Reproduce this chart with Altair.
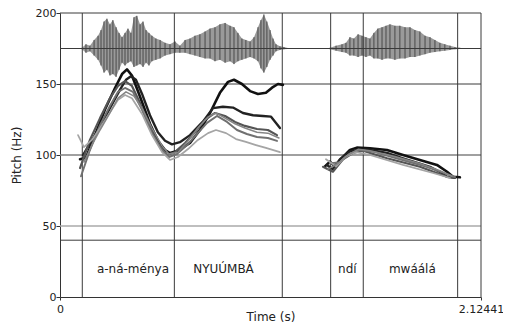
import altair as alt
import pandas as pd

# ---------------- data ----------------
# pitch tracks, first phrase (a-ná-ménya NYUÚMBÁ)
p1_t = [0.101, 0.131, 0.177, 0.227, 0.277, 0.313, 0.338, 0.363, 0.404, 0.454, 0.494, 0.530, 0.555,
        0.595, 0.656, 0.706, 0.757, 0.807, 0.848, 0.878, 0.918, 0.959, 0.999, 1.039, 1.070, 1.100, 1.125]
p1_hz = [97, 98, 114, 132, 147, 157, 160.3, 156, 141, 122, 110, 103.5, 101.4,
         103, 108.5, 117.6, 129.6, 143.8, 151.5, 153, 150, 145, 143, 143.8, 147.4, 150, 149.4]

p2_t = [0.116, 0.151, 0.202, 0.252, 0.303, 0.333, 0.358, 0.383, 0.414, 0.454, 0.494, 0.530, 0.565,
        0.605, 0.656, 0.721, 0.772, 0.822, 0.873, 0.923, 0.974, 1.024, 1.065, 1.110]
p2_hz = [100, 108, 120, 133, 146, 153, 155.5, 153, 143, 128, 116, 110, 107.5,
         109, 114, 123.5, 133, 134, 133.4, 129.6, 128, 127.5, 127, 119]

p3_t = [0.101, 0.151, 0.202, 0.252, 0.293, 0.328, 0.363, 0.404, 0.454, 0.505, 0.540, 0.580, 0.631,
        0.681, 0.732, 0.782, 0.833, 0.883, 0.933, 0.994, 1.049, 1.095]
p3_hz = [90.8, 110.6, 126, 140, 148.6, 152, 148.6, 136.6, 119, 105.6, 100, 102, 108.5,
         116, 124.7, 129.6, 127.5, 123.3, 120.5, 118.3, 117.6, 114]

p4_t = [0.106, 0.151, 0.202, 0.252, 0.293, 0.328, 0.368, 0.414, 0.464, 0.515, 0.550, 0.590, 0.641,
        0.691, 0.742, 0.792, 0.843, 0.893, 0.943, 0.994, 1.049, 1.095]
p4_hz = [85, 103.5, 121, 134.5, 144.5, 147.2, 144.5, 131.8, 115.4, 103.5, 98.6, 100.7, 107,
         114.8, 122.6, 127.5, 123.3, 117.6, 114.8, 112.7, 112, 109.9]

p5_t = [0.091, 0.121, 0.161, 0.202, 0.252, 0.293, 0.328, 0.363, 0.414, 0.464, 0.515, 0.555, 0.595,
        0.646, 0.696, 0.747, 0.787, 0.838, 0.888, 0.938, 0.989, 1.039, 1.110]
p5_hz = [114, 105.6, 110.6, 119, 130, 138.8, 142.3, 140, 128.9, 114, 102, 96.5, 98.6,
         104.2, 110.6, 115.4, 117.6, 115.4, 111.2, 109.2, 107, 105, 102]

p6_t = [0.121, 0.161, 0.202, 0.252, 0.293, 0.333, 0.373, 0.414, 0.464, 0.515, 0.550, 0.595, 0.646,
        0.696, 0.747, 0.787, 0.833, 0.883, 0.933, 0.994, 1.049, 1.105]
p6_hz = [95, 107, 117.6, 129.6, 140, 144.5, 141.5, 133, 119, 106.4, 100.7, 102, 109.9,
         119, 126.8, 129.6, 126, 122, 119, 116, 115.4, 112]

# pitch tracks, second phrase (ndí mwáálá)
q1_t = [1.337, 1.362, 1.387, 1.413, 1.463, 1.498, 1.564, 1.650, 1.731, 1.816, 1.902, 1.953, 1.983, 2.018]
q1_hz = [92, 95.3, 92, 96.5, 103.5, 105.2, 104.7, 103.5, 100, 96.5, 93, 88.2, 84.7, 84.3]

q2_t = [1.347, 1.377, 1.413, 1.463, 1.514, 1.564, 1.650, 1.731, 1.816, 1.867, 1.917, 1.953, 1.993]
q2_hz = [93, 90, 97, 102.5, 104, 103.5, 101.5, 97.7, 94, 91.7, 88, 84.7, 84]

q3_t = [1.327, 1.377, 1.428, 1.478, 1.529, 1.650, 1.816, 1.953, 1.993]
q3_hz = [91.7, 88.2, 97, 101.4, 103, 97.7, 91.7, 84.7, 84]

q4_t = [1.362, 1.413, 1.463, 1.514, 1.589, 1.715, 1.842, 1.943, 1.993]
q4_hz = [94, 95, 101, 103.5, 102, 97, 92, 87, 84.5]

q5_t = [1.342, 1.393, 1.443, 1.493, 1.564, 1.731, 1.882, 1.968]
q5_hz = [97, 92, 99, 102, 100, 93, 87.3, 83.8]

q6_t = [1.352, 1.403, 1.453, 1.504, 1.564, 1.690, 1.816, 1.917, 1.978]
q6_hz = [90, 94, 100, 104, 103, 99, 94, 89, 85]

# waveform envelope (drawn around the 175 line)
w1_t = [0.111, 0.131, 0.151, 0.172, 0.192, 0.207, 0.222, 0.237, 0.252, 0.267, 0.283, 0.298, 0.313,
        0.328, 0.343, 0.358, 0.373, 0.388, 0.404, 0.419, 0.434, 0.449, 0.464, 0.484, 0.505, 0.530,
        0.555, 0.580, 0.605, 0.631, 0.656, 0.681, 0.706, 0.732, 0.757, 0.782, 0.807, 0.833, 0.858,
        0.878, 0.898, 0.918, 0.938, 0.959, 0.979, 0.999, 1.014, 1.029, 1.044, 1.060, 1.075, 1.090,
        1.110, 1.130, 1.150]
w1_hi = [175.5, 178, 177, 181, 184, 188, 194, 196, 192, 195, 190, 186, 183,
         186, 189, 186, 197, 198, 192, 194, 188, 186, 184, 182, 181, 179,
         178, 180, 177, 181, 182, 184, 185, 187, 189, 190, 192, 193, 191,
         190, 186, 182, 181, 180, 183, 190, 195, 199, 194, 188, 182, 178,
         176.5, 176, 175.3]
w1_lo = [174.5, 172, 173, 170, 167, 163, 158, 160, 156, 157, 155, 160, 165,
         163, 165, 166, 162, 163, 164, 162, 165, 163, 166, 167, 168, 170,
         171, 172, 172, 172, 171, 170, 169, 168, 168, 166, 167, 165, 166,
         164, 166, 167, 168, 169, 168, 166, 161, 158, 162, 167, 170, 173,
         174, 174.5, 174.7]

w2_t = [1.362, 1.393, 1.423, 1.443, 1.463, 1.483, 1.504, 1.524, 1.544, 1.564, 1.584, 1.604, 1.625,
        1.645, 1.665, 1.690, 1.715, 1.741, 1.766, 1.791, 1.816, 1.842, 1.867, 1.892, 1.917, 1.942,
        1.968, 1.993, 2.018]
w2_hi = [175.5, 177, 178, 179, 183, 182, 185, 184, 183, 182, 186, 189, 190,
         191, 192, 191, 191, 190, 190, 188, 187, 184, 183, 181, 179, 178,
         177, 176, 175.5]
w2_lo = [174.5, 173.5, 172.5, 172, 170, 170, 169, 170, 169, 170, 168, 168, 167,
         168, 168, 167, 168, 168, 169, 169, 170, 171, 172, 172.5, 173, 173.5,
         174, 174.5, 174.7]

# reference lines and tier boundaries
h_dark = [200, 175, 150, 40]
h_mid = [100]
h_light = [50]
boundaries = [0.1125, 0.577, 1.1216, 1.3658, 1.5303, 2.0066, 2.12441]

# tier labels
words = ["a-ná-ménya", "NYUÚMBÁ", "ndí", "mwáálá"]
word_t = [0.368, 0.825, 1.450, 1.778]
word_hz = [20, 20, 20, 20]

T_MAX = 2.12441
W, H = 421, 284

# ---------------- tables ----------------
tracks = [
    ("1", "a", p1_t, p1_hz), ("2", "a", p2_t, p2_hz), ("3", "a", p3_t, p3_hz),
    ("4", "a", p4_t, p4_hz), ("5", "a", p5_t, p5_hz), ("6", "a", p6_t, p6_hz),
    ("1", "b", q1_t, q1_hz), ("2", "b", q2_t, q2_hz), ("3", "b", q3_t, q3_hz),
    ("4", "b", q4_t, q4_hz), ("5", "b", q5_t, q5_hz), ("6", "b", q6_t, q6_hz),
]
rows = []
for trk, seg, ts, hs in tracks:
    for t, h in zip(ts, hs):
        rows.append({"track": trk, "g": trk + seg, "t": t, "hz": h})
pitch = pd.DataFrame(rows)

wave = pd.DataFrame(
    [{"seg": "a", "t": t, "hz": hi, "lo": lo} for t, hi, lo in zip(w1_t, w1_hi, w1_lo)]
    + [{"seg": "b", "t": t, "hz": hi, "lo": lo} for t, hi, lo in zip(w2_t, w2_hi, w2_lo)]
)

labels = pd.DataFrame({"w": words, "t": word_t, "hz": word_hz})

FONT = "DejaVu Sans"
xs = alt.Scale(domain=[0, T_MAX], nice=False, zero=False)
ys = alt.Scale(domain=[0, 200], nice=False)

x_axis = alt.Axis(values=[0, T_MAX], format=".6~g", title="Time (s)", grid=False,
                  tickSize=3, labelPadding=3, labelFontSize=11, labelFont=FONT,
                  titleFont=FONT, titleFontSize=12, titleFontWeight="normal",
                  titleBaseline="bottom", titleY=26, domainColor="#333", tickColor="#333",
                  labelColor="#222", titleColor="#222", labelFlush=False)
y_axis = alt.Axis(values=[0, 50, 100, 150, 200], title="Pitch (Hz)", grid=False,
                  tickSize=4, labelPadding=0, labelFontSize=11, labelFont=FONT,
                  titleFont=FONT, titleFontSize=12, titleFontWeight="normal",
                  titleX=-44, titleY=142, titleAngle=270, titleAlign="center",
                  titleBaseline="middle", domainColor="#333", tickColor="#333",
                  labelColor="#222", titleColor="#222", labelFlush=False)

X = alt.X("t:Q", scale=xs, axis=x_axis)
Y = alt.Y("hz:Q", scale=ys, axis=y_axis)

wave_area = alt.Chart(wave).mark_area(color="#9a9a9a", interpolate="linear").encode(
    x=X, y=Y, y2="lo:Q", detail="seg:N")
wave_sticks = alt.Chart(wave).mark_rule(color="#4a4a4a", strokeWidth=1).encode(
    x=X, y=Y, y2="lo:Q")

def hrules(vals, color, width):
    return alt.Chart(pd.DataFrame({"hz": vals})).mark_rule(color=color, strokeWidth=width).encode(
        y=Y, x=alt.value(0), x2=alt.value(W))

h1 = hrules(h_dark, "#3a3a3a", 1)
h2 = hrules(h_mid, "#808080", 1.5)
h3 = hrules(h_light, "#aaaaaa", 1.5)

vr = alt.Chart(pd.DataFrame({"t": boundaries})).mark_rule(color="#3a3a3a", strokeWidth=1).encode(
    x=X, y=alt.value(0), y2=alt.value(H))

lines = alt.Chart(pitch).mark_line(strokeJoin="round", strokeCap="round").encode(
    x=X, y=Y, detail="g:N",
    color=alt.Color("track:N", legend=None, scale=alt.Scale(
        domain=["1", "2", "3", "4", "5", "6"],
        range=["#111111", "#222222", "#555555", "#707070", "#a5a5a5", "#858585"])),
    strokeWidth=alt.StrokeWidth("track:N", legend=None, scale=alt.Scale(
        domain=["1", "2", "3", "4", "5", "6"], range=[2.6, 1.5, 1.1, 1.0, 1.0, 1.0])),
    order=alt.Order("t:Q"),
)

text = alt.Chart(labels).mark_text(font=FONT, fontSize=12, color="#222").encode(
    x=X, y=Y, text="w:N")

chart = alt.layer(wave_area, wave_sticks, h3, h2, h1, vr, lines, text).properties(
    width=W, height=H,
    autosize=alt.AutoSizeParams(type="none"),
    padding={"left": 52, "top": 5, "right": 22, "bottom": 26},
).configure_view(stroke=None)

chart.save("out.html", embed_options={"renderer": "svg", "actions": False})
